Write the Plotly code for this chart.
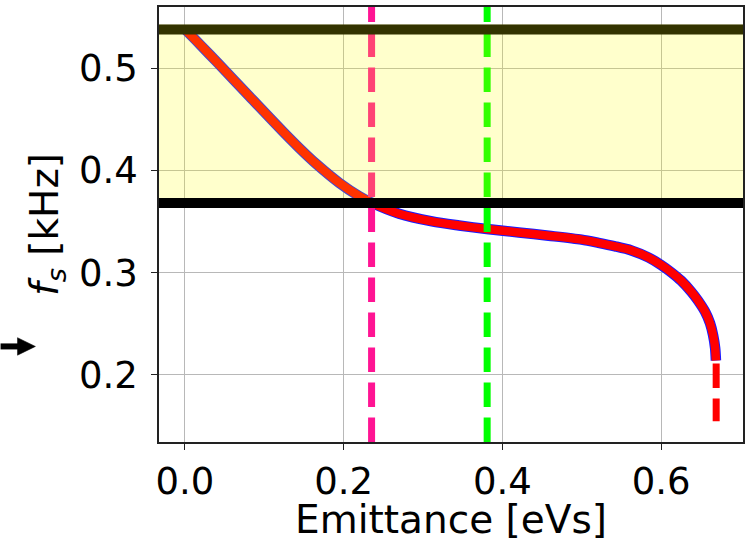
import plotly.graph_objects as go

# Synchrotron frequency versus longitudinal emittance
emittance = [0.0000, 0.0188, 0.0402, 0.0816, 0.1230, 0.1444, 0.1657, 0.1946,
             0.2197, 0.2348, 0.2699, 0.3114, 0.3453, 0.3804, 0.4206, 0.4583,
             0.4997, 0.5210, 0.5420, 0.5625, 0.5838, 0.6001, 0.6127, 0.6252,
             0.6378, 0.6466, 0.6554, 0.6616, 0.6654, 0.6680, 0.6690]
f_s = [0.5383, 0.5235, 0.5062, 0.4723, 0.4385, 0.4218, 0.4063, 0.3878,
       0.3748, 0.3686, 0.3577, 0.3502, 0.3462, 0.3427, 0.3394, 0.3362,
       0.3323, 0.3292, 0.3258, 0.3218, 0.3150, 0.3075, 0.3004, 0.2922,
       0.2815, 0.2725, 0.2617, 0.2505, 0.2390, 0.2262, 0.2140]

# extension of the curve beyond the last computed point
tail_emittance = [0.6693, 0.6693]
tail_f_s = [0.2112, 0.1547]

# frequency band limits and marked emittances
f_upper = 0.538
f_lower = 0.3682
band_top = 0.5430
emit_pink = 0.2352
emit_green = 0.3808

x_ticks = [0.0, 0.2, 0.4, 0.6]
x_tick_text = ["0.0", "0.2", "0.4", "0.6"]
y_ticks = [0.2, 0.3, 0.4, 0.5]
y_tick_text = ["0.2", "0.3", "0.4", "0.5"]

FONT = "DejaVu Sans"
DASH = "24.5px,10.5px"

fig = go.Figure()

# blue outline under the red curve
fig.add_trace(go.Scatter(x=emittance, y=f_s, mode="lines",
                         line=dict(color="#1a1aff", width=10.5, shape="spline",
                                   smoothing=0.8),
                         hoverinfo="skip", showlegend=False))
fig.add_trace(go.Scatter(x=emittance, y=f_s, mode="lines",
                         line=dict(color="#ff0000", width=8.5, shape="spline",
                                   smoothing=0.8),
                         showlegend=False))
fig.add_trace(go.Scatter(x=tail_emittance, y=tail_f_s, mode="lines",
                         line=dict(color="#ff0000", width=7, dash=DASH),
                         showlegend=False))

shapes = [
    # vertical markers (dashes start at the bottom of the axes)
    dict(type="line", xref="x", yref="paper", x0=emit_pink, x1=emit_pink,
         y0=0, y1=1, line=dict(color="#ff1493", width=7, dash=DASH),
         layer="above"),
    dict(type="line", xref="x", yref="paper", x0=emit_green, x1=emit_green,
         y0=0, y1=1, line=dict(color="#00ff00", width=7, dash=DASH),
         layer="above"),
    # upper limit, tinted by the band drawn after it
    dict(type="line", xref="paper", yref="y", x0=0, x1=1, y0=f_upper,
         y1=f_upper, line=dict(color="black", width=10), layer="above"),
    # translucent yellow band
    dict(type="rect", xref="paper", yref="y", x0=0, x1=1, y0=f_lower,
         y1=band_top, fillcolor="rgba(255,255,0,0.2)", line=dict(width=0),
         layer="above"),
    # lower limit
    dict(type="line", xref="paper", yref="y", x0=0, x1=1, y0=f_lower,
         y1=f_lower, line=dict(color="black", width=10), layer="above"),
    # pointer arrow left of the axes: shaft and head
    dict(type="line", xref="paper", yref="paper", x0=-0.2713, x1=-0.2400,
         y0=0.2197, y1=0.2197, line=dict(color="black", width=6),
         layer="above"),
    dict(type="path", xref="paper", yref="paper",
         path="M -0.2423 0.2398 L -0.2423 0.1995 L -0.2116 0.2197 Z",
         fillcolor="black", line=dict(color="black", width=0.5),
         layer="above"),
]

axis_common = dict(
    showgrid=True, gridcolor="#b8b8b8", gridwidth=1.2,
    showline=True, linecolor="#222222", linewidth=1.6, mirror=True,
    ticks="outside", ticklen=6, tickwidth=1.4, tickcolor="#222222",
    zeroline=False,
    tickfont=dict(family=FONT, size=37, color="black"),
)

fig.update_layout(
    width=746, height=542,
    margin=dict(l=159, r=1, t=7, b=98),
    paper_bgcolor="white", plot_bgcolor="white",
    shapes=shapes,
    xaxis=dict(range=[-0.0326, 0.7031], tickvals=x_ticks,
               ticktext=x_tick_text,
               title=dict(text="Emittance [eVs]", standoff=10,
                          font=dict(family=FONT, size=39, color="black")),
               **axis_common),
    yaxis=dict(range=[0.1343, 0.5600], tickvals=y_ticks,
               ticktext=y_tick_text, ticklabelstandoff=6,
               title=dict(text="<i>f</i><sub><i>s</i></sub> [kHz]", standoff=8,
                          font=dict(family=FONT, size=39, color="black")),
               **axis_common),
)

fig.write_html("out.html")
